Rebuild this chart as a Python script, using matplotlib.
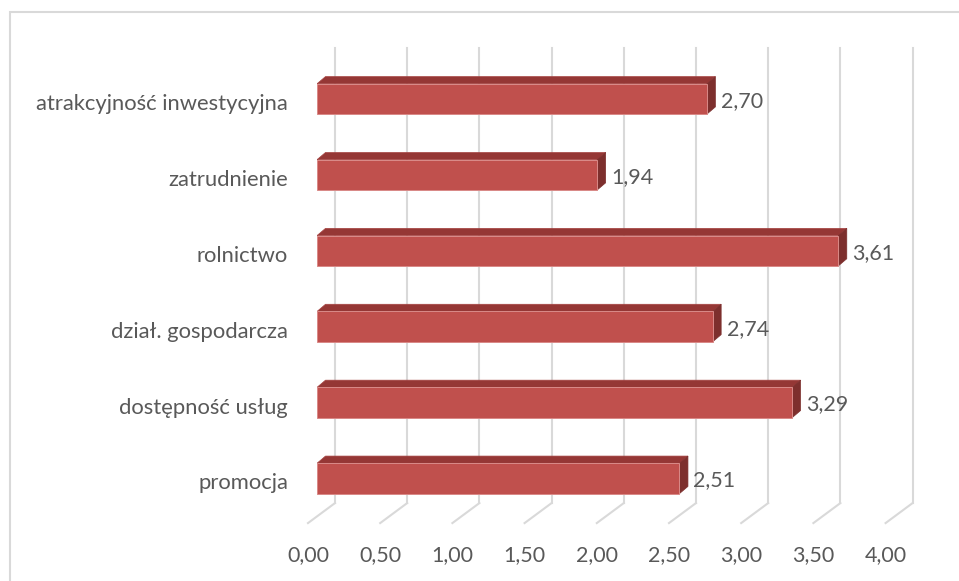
import matplotlib.pyplot as plt
from matplotlib.patches import Rectangle, Polygon
import numpy as np

# dane
kategorie = ["atrakcyjność inwestycyjna", "zatrudnienie", "rolnictwo",
             "dział. gospodarcza", "dostępność usług", "promocja"]
wartosci = [2.70, 1.94, 3.61, 2.74, 3.29, 2.51]
ticki = [0.0, 0.5, 1.0, 1.5, 2.0, 2.5, 3.0, 3.5, 4.0]

plt.rcParams['font.family'] = ['Lato', 'DejaVu Sans']

W, H = 959, 581
fig = plt.figure(figsize=(W / 100, H / 100), dpi=100)

# os w plaszczyznie przedniej scian slupkow
lewo, prawo, gora, dol = 317, 894.6, 61.0, 516.4
ax = fig.add_axes([lewo / W, 1 - dol / H, (prawo - lewo) / W, (dol - gora) / H])
ax.set_xlim(0, 4)
ax.set_ylim(5.5, -0.5)
ax.axis('off')

px_x = 4 / (prawo - lewo)   # jednostki danych na piksel
px_y = 6 / (dol - gora)


def przes(dx, dy):
    # dx, dy w pikselach (dy w dol dodatnie) -> jednostki danych
    return dx * px_x, dy * px_y


kolor_txt = '#595959'
siatka = '#d9d9d9'

# glebokosc podlogi: przod -> tyl
gl = (27, -20)
tyl = przes(gl[0] * 2 / 3, gl[1] * 2 / 3)
przod = przes(-gl[0] / 3, -gl[1] / 3)

# tylna sciana - linie siatki + skosy podlogi
for t in ticki:
    ax.plot([t + tyl[0], t + tyl[0]], [5.5 + tyl[1], -0.5 + tyl[1]],
            color=siatka, lw=1.5, clip_on=False, zorder=1)
    ax.plot([t + tyl[0], t + przod[0]], [5.5 + tyl[1], 5.5 + przod[1]],
            color=siatka, lw=1.5, clip_on=False, zorder=1)
    ax.annotate(f"{t:.2f}".replace('.', ','), xy=(t, 5.5), xytext=(-9, -39),
                textcoords='offset pixels', ha='center', va='center',
                fontsize=15.5, color=kolor_txt, annotation_clip=False)

# slupki 3D
h = 0.2
gx, gy = przes(8.5, -7.2)
for i, v in enumerate(wartosci):
    y0, y1 = i - h, i + h
    ax.add_patch(Polygon([(0, y0), (v, y0), (v + gx, y0 + gy), (gx, y0 + gy)],
                         closed=True, facecolor='#953735', edgecolor='#a64442',
                         lw=0.5, zorder=3))
    ax.add_patch(Polygon([(v, y0), (v, y1), (v + gx, y1 + gy), (v + gx, y0 + gy)],
                         closed=True, facecolor='#7d2f2d', edgecolor='#7d2f2d',
                         lw=0.5, zorder=3))
    ax.add_patch(Rectangle((0, y0), v, 2 * h, facecolor='#c0504d',
                           edgecolor='#d98a88', lw=0.7, zorder=4))
    ax.annotate(f"{v:.2f}".replace('.', ','), xy=(v, i), xytext=(14, -2),
                textcoords='offset pixels', ha='left', va='center',
                fontsize=15.5, color=kolor_txt, annotation_clip=False)
    ax.annotate(kategorie[i], xy=(0, i), xytext=(-29, -5),
                textcoords='offset pixels', ha='right', va='center',
                fontsize=15.8, color=kolor_txt, annotation_clip=False)

# ramka wykresu
fig.patches.append(Rectangle((10 / W, -0.1), 1.2, 1.1 - 12 / H,
                             transform=fig.transFigure, fill=False,
                             edgecolor='#d9d9d9', lw=1.5))

plt.savefig('out.png', dpi=100)
